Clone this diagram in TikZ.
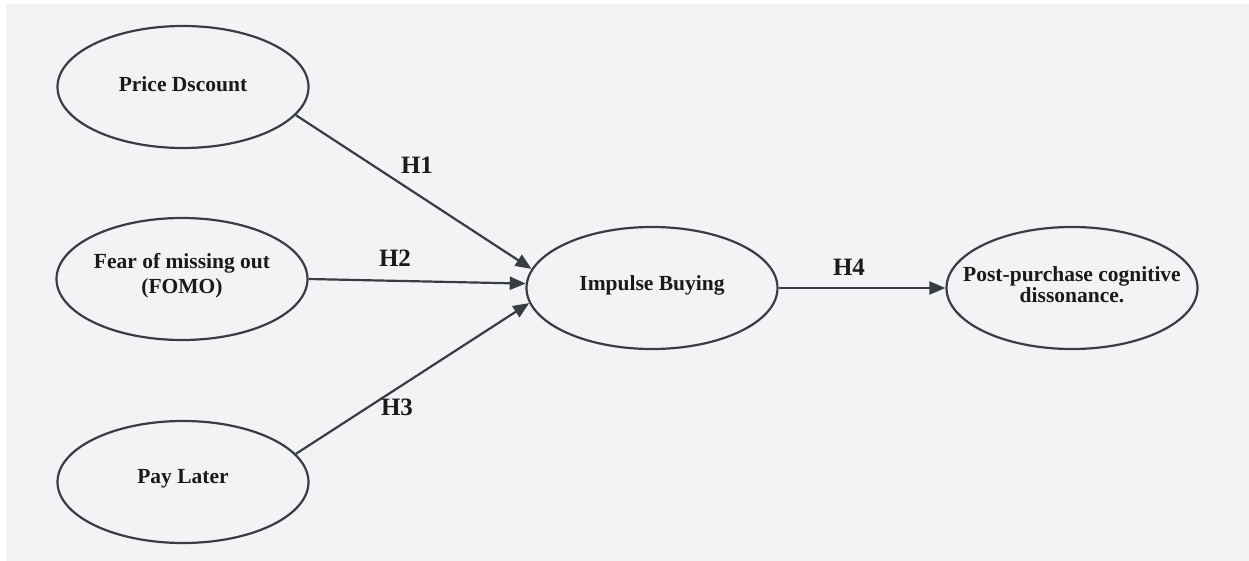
\documentclass[tikz,border=0pt]{standalone}
\usepackage{fontspec}
\setmainfont{Liberation Serif}
\usetikzlibrary{shapes.geometric,arrows.meta}
\definecolor{bgc}{HTML}{F2F3F5}
\definecolor{linec}{HTML}{393C43}
\definecolor{txtc}{HTML}{1A1A1C}
\begin{document}
\begin{tikzpicture}[x=1pt,y=-1pt,
  construct/.style={ellipse, draw=linec, line width=2.2pt, minimum width=251pt, minimum height=122pt, inner sep=0pt,
    label={[text=txtc, align=center, inner sep=0pt, yshift=3pt, font=\bfseries\fontsize{21.5}{#1}\selectfont]center:\ctext}},
  construct/.default=21,
  hlabel/.style={text=txtc, inner sep=0pt, font=\bfseries\fontsize{25}{28}\selectfont},
  conn/.style={draw=linec, line width=2.2pt, -{Triangle[length=16pt,width=13pt]}}]
\useasboundingbox (0,0) rectangle (1249,561);
\fill[white] (0,0) rectangle (1249,561);
\fill[bgc] (6,4) rectangle (1249,561);

\def\ctext{Price Dscount}
\node[construct] (pd) at (183,87) {};
\def\ctext{Fear of missing out\\(FOMO)}
\node[construct=25] (fomo) at (182,279) {};
\def\ctext{Pay Later}
\node[construct] (pl) at (183,482) {};
\def\ctext{Impulse Buying}
\node[construct] (ib) at (652,288) {};
\def\ctext{Post-purchase cognitive\\dissonance.}
\node[construct=21] (pp) at (1072,288) {};

\draw[conn] (pd.-14) -- (ib.171);
\draw[conn] (fomo.0) -- (ib.178);
\draw[conn] (pl.14) -- (ib.187);
\draw[conn] (ib.east) -- (pp.west);

\node[hlabel] (h1) at (417,165) {H1};
\node[hlabel] (h2) at (395,258) {H2};
\node[hlabel] (h3) at (397,407) {H3};
\node[hlabel] (h4) at (849,267) {H4};
\end{tikzpicture}
\end{document}
